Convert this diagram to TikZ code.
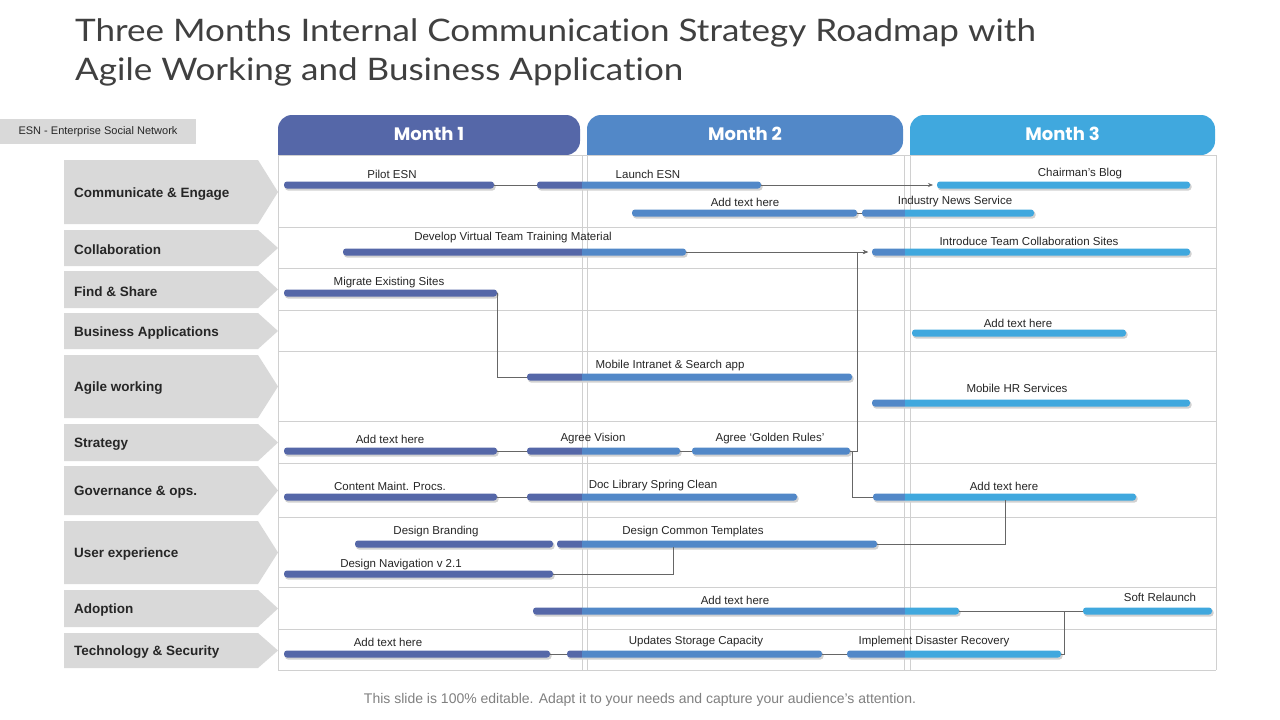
\documentclass[tikz,border=0pt]{standalone}
\usepackage{fontspec}
\setmainfont{Liberation Sans}
\newfontfamily\titlefont[Ligatures=NoCommon]{Lato}
\newfontfamily\headfont{Poppins}
\usetikzlibrary{arrows.meta,calc}
\definecolor{mA}{HTML}{5567A8}
\definecolor{mB}{HTML}{5288C8}
\definecolor{mC}{HTML}{40A8DE}
\definecolor{lbl}{HTML}{D9D9D9}
\definecolor{gridc}{HTML}{D0D0D0}
\tikzset{
  conn/.style={draw=black!60, line width=0.7pt},
  arr/.style={conn, -{Stealth[length=5pt,width=4pt]}, shorten >=4pt},
  barlabel/.style={font=\fontsize{11.5}{13}\selectfont, text=black!85, inner sep=0},
  rowlbl/.style={font=\bfseries\fontsize{13.5}{15}\selectfont, text=black!85, anchor=west, inner sep=0},
  gline/.style={draw=gridc, line width=0.6pt},
}
\newcommand\gbar[7]{%
  \fill[black!18, rounded corners=3pt] (#2+1,#4-2) rectangle (#3+1.5,#4+5.5);
  \begin{scope}
    \clip[rounded corners=3pt] (#2,#4-3.5) rectangle (#3,#4+3.5);
    \fill[mA] (270,#4-5) rectangle (582,#4+5);
    \fill[mB] (582,#4-5) rectangle (905,#4+5);
    \fill[mC] (905,#4-5) rectangle (1225,#4+5);
  \end{scope}
  \coordinate (#1-w) at (#2,#4);
  \coordinate (#1-e) at (#3,#4);
  \node[barlabel] (#1) at (#6,#7+1) {#5};
}
\newcommand\rowbox[4]{%
  \fill[lbl] (64,#2) -- (258,#2) -- (278,{(#2+#3)/2}) -- (258,#3) -- (64,#3) -- cycle;
  \node[rowlbl] (#1) at (74,{(#2+#3)/2+2}) {#4};
}
\newcommand\monthtab[5]{%
  \fill[#4, rounded corners=14pt] (#2,155) -- (#2,115) -- (#3,115) -- (#3,155) [sharp corners]-- cycle;
  \node[font=\headfont\bfseries\fontsize{18}{20}\selectfont, text=white] (#1) at ({(#2+#3)/2},134) {#5};
}
\begin{document}
\begin{tikzpicture}[x=1pt,y=-1pt]
\useasboundingbox (0,0) rectangle (1280,720);
\fill[white] (0,0) rectangle (1280,720);
% title
\node[anchor=north west, align=left, inner sep=0, text=black!75, xscale=1.13,
  font=\titlefont\fontsize{31}{39}\selectfont] (title) at (75,18)
  {Three Months Internal Communication Strategy Roadmap with\\Agile Working and Business Application};
% ESN box
\fill[lbl] (0,119) rectangle (196,144);
\node[font=\fontsize{11}{13}\selectfont, text=black!85] (esn) at (98,131.5) {ESN - Enterprise Social Network};
% month tabs
\monthtab{m1}{278}{580}{mA}{Month 1}
\monthtab{m2}{587}{903}{mB}{Month 2}
\monthtab{m3}{910}{1215}{mC}{Month 3}
% grid
\foreach \yy in {155,227,268,310,351,421,463,517,587,629,670}
  \draw[gline] (278,\yy) -- (1216,\yy);
\foreach \xx in {278,582,587,904,910,1216}
  \draw[gline] (\xx,155) -- (\xx,670);
% row labels
\rowbox{r1}{160}{224}{Communicate \& Engage}
\rowbox{r2}{230}{266}{Collaboration}
\rowbox{r3}{271}{308}{Find \& Share}
\rowbox{r4}{313}{349}{Business Applications}
\rowbox{r5}{355}{418}{Agile working}
\rowbox{r6}{424}{461}{Strategy}
\rowbox{r7}{466}{515}{Governance \& ops.}
\rowbox{r8}{521}{584}{User experience}
\rowbox{r9}{590}{627}{Adoption}
\rowbox{r10}{633}{668}{Technology \& Security}
% bars
\gbar{pilot}{284}{494}{185}{Pilot ESN}{392}{173}
\gbar{launch}{537}{761}{185}{Launch ESN}{648}{173}
\gbar{blog}{937}{1190}{185}{Chairman’s Blog}{1080}{173}
\gbar{addA}{632}{857}{213}{Add text here}{745}{201}
\gbar{news}{862}{1034}{213}{Industry News Service}{955}{201}
\gbar{dev}{343}{686}{252}{Develop Virtual Team Training Material}{513}{237}
\gbar{intro}{872}{1190}{252}{Introduce Team Collaboration Sites}{1029}{240}
\gbar{migrate}{284}{497}{293}{Migrate Existing Sites}{389}{282}
\gbar{addB}{912}{1126}{333}{Add text here}{1018}{322}
\gbar{intranet}{527}{852}{377}{Mobile Intranet \& Search app}{670}{365}
\gbar{hr}{872}{1190}{403}{Mobile HR Services}{1017}{387}
\gbar{addS}{284}{497}{451}{Add text here}{390}{438}
\gbar{vision}{527}{680}{451}{Agree Vision}{593}{438}
\gbar{golden}{692}{850}{451}{Agree ‘Golden Rules’}{770}{438}
\gbar{content}{284}{497}{497}{Content Maint. Procs.}{390}{485}
\gbar{doclib}{527}{797}{497}{Doc Library Spring Clean}{653}{485}
\gbar{addG}{873}{1136}{497}{Add text here}{1004}{485}
\gbar{brand}{355}{553}{544}{Design Branding}{436}{531}
\gbar{templ}{557}{877}{544}{Design Common Templates}{693}{531}
\gbar{nav}{284}{553}{574}{Design Navigation v 2.1}{401}{564}
\gbar{adopt}{533}{959}{611}{Add text here}{735}{599}
\gbar{soft}{1083}{1212}{611}{Soft Relaunch}{1160}{596}
\gbar{addT}{284}{550}{654}{Add text here}{388}{641}
\gbar{storage}{567}{822}{654}{Updates Storage Capacity}{696}{641}
\gbar{disaster}{847}{1061}{654}{Implement Disaster Recovery}{934}{641}
\coordinate (addGb) at (1005,500);
\coordinate (templb) at (673,547);
% connectors
\draw[conn] (pilot-e) -- (launch-w);
\draw[arr] (launch-e) -- (blog-w);
\draw[conn] (addA-e) -- (news-w);
\draw[arr] (dev-e) -- (intro-w);
\draw[arr] (golden-e) -- ++(7,0) |- (intro-w);
\draw[conn] (golden-e) -- ++(2,0) |- (addG-w);
\draw[conn] (migrate-e) -- ++(0,0) |- (intranet-w);
\draw[conn] (addS-e) -- (vision-w);
\draw[conn] (vision-e) -- (golden-w);
\draw[conn] (content-e) -- (doclib-w);
\draw[conn] (templ-e) -| (addGb);
\draw[conn] (nav-e) -| (templb);
\draw[conn] (adopt-e) -- (soft-w);
\draw[conn] (disaster-e) -- ++(3,0) |- (soft-w);
\draw[conn] (addT-e) -- (storage-w);
\draw[conn] (storage-e) -- (disaster-w);
% footer
\node[font=\fontsize{14}{16}\selectfont, text=black!50] (foot) at (640,700)
  {This slide is 100\% editable. Adapt it to your needs and capture your audience’s attention.};
\end{tikzpicture}
\end{document}
